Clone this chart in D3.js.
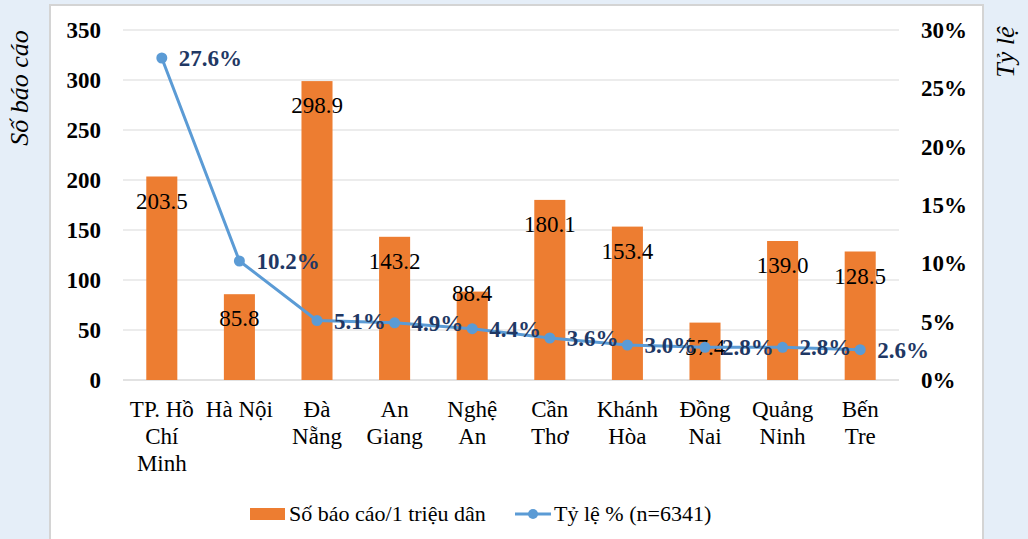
<!DOCTYPE html>
<html>
<head>
<meta charset="utf-8">
<script src="https://cdn.jsdelivr.net/npm/d3@7"></script>
</head>
<body style="margin:0;padding:0;background:#e5eef8">
<svg id="chart" width="1028" height="539" style="display:block"></svg>
<script>
// data
const provinces = [
  ["TP. Hồ", "Chí", "Minh"], ["Hà Nội"], ["Đà", "Nẵng"], ["An", "Giang"], ["Nghệ", "An"],
  ["Cần", "Thơ"], ["Khánh", "Hòa"], ["Đồng", "Nai"], ["Quảng", "Ninh"], ["Bến", "Tre"]
];
const reportsPerMillion = [203.5, 85.8, 298.9, 143.2, 88.4, 180.1, 153.4, 57.4, 139.0, 128.5];
const sharePct = [27.6, 10.2, 5.1, 4.9, 4.4, 3.6, 3.0, 2.8, 2.8, 2.6];
const leftTicks = [0, 50, 100, 150, 200, 250, 300, 350];
const rightTicks = [0, 5, 10, 15, 20, 25, 30];

const BAR = "#ed7d31";
const LINE = "#5b9bd5";
const NAVY = "#1f3864";
const FONT = "Liberation Serif";

const svg = d3.select("#chart");
const keys = provinces.map(p => p.join(" "));

// white panel
svg.append("rect")
  .attr("x", 50).attr("y", 5).attr("width", 933).attr("height", 560)
  .attr("fill", "#fff").attr("stroke", "#d4d4d4").attr("stroke-width", 2);

const x = d3.scaleBand().domain(keys).range([123, 899]).paddingInner(0.6).paddingOuter(0.3);
const y = d3.scaleLinear([0, 350], [380, 30]);
const y2 = d3.scaleLinear([0, 30], [380, 30]);

// grid
svg.append("g").selectAll("line").data(leftTicks).join("line")
  .attr("x1", 123).attr("x2", 899)
  .attr("y1", d => y(d)).attr("y2", d => y(d))
  .attr("stroke", "#d9d9d9").attr("stroke-width", d => d === 0 ? 1.5 : 1);

// left axis
const gl = svg.append("g").attr("transform", "translate(101,0)")
  .call(d3.axisLeft(y).tickValues(leftTicks).tickSize(0).tickPadding(0));
gl.select(".domain").remove();
gl.selectAll("text").style("font-family", FONT).attr("font-size", 23)
  .attr("font-weight", "bold").attr("fill", "#000");

// right axis
const gr = svg.append("g").attr("transform", "translate(921,0)")
  .call(d3.axisRight(y2).tickValues(rightTicks).tickSize(0).tickPadding(0).tickFormat(d => d + "%"));
gr.select(".domain").remove();
gr.selectAll("text").style("font-family", FONT).attr("font-size", 23)
  .attr("font-weight", "bold").attr("fill", "#000");

// category labels
const gx = svg.append("g").attr("transform", "translate(0,380)")
  .call(d3.axisBottom(x).tickSize(0));
gx.select(".domain").remove();
gx.selectAll("text").each(function(d, i) {
  const t = d3.select(this).text(null)
    .style("font-family", FONT).attr("font-size", 23).attr("fill", "#000")
    .attr("y", 0).attr("dy", null);
  provinces[i].forEach((line, k) => {
    t.append("tspan").attr("x", 0).attr("y", 37 + k * 27).text(line);
  });
});

// bars
svg.append("g").selectAll("rect").data(reportsPerMillion).join("rect")
  .attr("x", (d, i) => x(keys[i]))
  .attr("y", d => y(d))
  .attr("width", x.bandwidth())
  .attr("height", d => y(0) - y(d))
  .attr("fill", BAR);

// bar labels
svg.append("g").selectAll("text").data(reportsPerMillion).join("text")
  .attr("x", (d, i) => x(keys[i]) + x.bandwidth() / 2)
  .attr("y", (d, i) => y(d) + (i === 4 ? 9 : 32))
  .attr("text-anchor", "middle")
  .style("font-family", FONT).attr("font-size", 23).attr("fill", "#000")
  .text(d => d.toFixed(1));

// line
const cx = i => x(keys[i]) + x.bandwidth() / 2;
svg.append("path")
  .datum(sharePct)
  .attr("d", d3.line().x((d, i) => cx(i)).y(d => y2(d)))
  .attr("fill", "none").attr("stroke", LINE).attr("stroke-width", 3).attr("stroke-linejoin", "round");

svg.append("g").selectAll("circle").data(sharePct).join("circle")
  .attr("cx", (d, i) => cx(i)).attr("cy", d => y2(d)).attr("r", 5.5)
  .attr("fill", LINE);

svg.append("g").selectAll("text").data(sharePct).join("text")
  .attr("x", (d, i) => cx(i) + 17)
  .attr("y", d => y2(d) + 8)
  .style("font-family", FONT).attr("font-size", 23).attr("font-weight", "bold").attr("fill", NAVY)
  .text(d => d.toFixed(1) + "%");

// axis titles
svg.append("text")
  .attr("transform", "translate(28,88) rotate(-90)")
  .attr("text-anchor", "middle").style("font-family", FONT).attr("font-size", 26).attr("font-style", "italic")
  .text("Số báo cáo");
svg.append("text")
  .attr("transform", "translate(1014,52) rotate(-90)")
  .attr("text-anchor", "middle").style("font-family", FONT).attr("font-size", 26).attr("font-style", "italic")
  .text("Tỷ lệ");

// legend
const lg = svg.append("g");
lg.append("rect").attr("x", 250).attr("y", 508).attr("width", 35).attr("height", 12).attr("fill", BAR);
lg.append("text").attr("x", 289).attr("y", 521).style("font-family", FONT).attr("font-size", 22)
  .text("Số báo cáo/1 triệu dân");
lg.append("line").attr("x1", 515).attr("x2", 551).attr("y1", 514).attr("y2", 514)
  .attr("stroke", LINE).attr("stroke-width", 3);
lg.append("circle").attr("cx", 533).attr("cy", 514).attr("r", 5).attr("fill", LINE);
lg.append("text").attr("x", 554).attr("y", 521).style("font-family", FONT).attr("font-size", 22)
  .text("Tỷ lệ % (n=6341)");
</script>
</body>
</html>
